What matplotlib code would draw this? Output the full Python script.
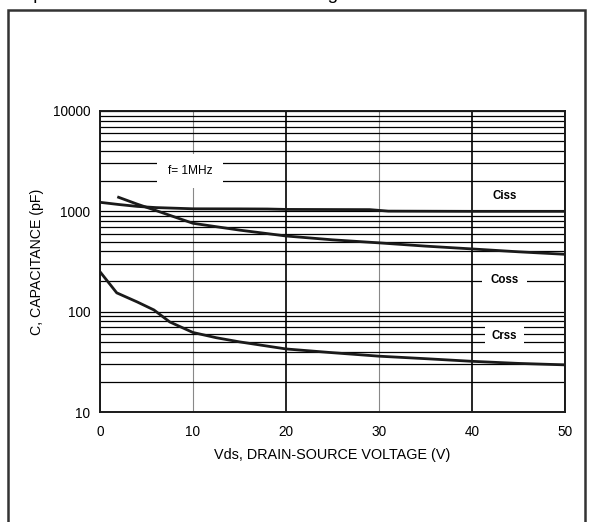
import matplotlib
matplotlib.use('Agg')
import matplotlib.pyplot as plt
from matplotlib.patches import Rectangle
from matplotlib.ticker import LogLocator, NullFormatter, FixedLocator, FixedFormatter

plt.rcParams['font.family'] = ['Liberation Sans', 'DejaVu Sans']

# ---- data ----
vds_ciss = [0, 2, 4, 6, 10, 15, 18, 20, 25, 29, 31, 40, 50]
ciss = [1230, 1170, 1120, 1090, 1060, 1058, 1055, 1045, 1042, 1040, 1005, 1000, 1000]

vds_coss = [2, 4, 6, 8, 10, 15, 20, 25, 30, 35, 40, 45, 50]
coss = [1380, 1180, 1020, 880, 760, 650, 568, 520, 485, 450, 422, 395, 373]

vds_crss = [0, 1.8, 4, 5.8, 7.5, 10, 12.5, 15, 20, 25, 30, 35, 40, 45, 50]
crss = [250, 154, 125, 104, 79, 62, 55, 50, 42.5, 39, 36, 34, 32, 30.5, 29.5]

x_ticks = [0, 10, 20, 30, 40, 50]
y_ticks = [10, 100, 1000, 10000]
y_tick_labels = ['10', '100', '1000', '10000']

W, H = 589, 522
fig = plt.figure(figsize=(W / 100, H / 100), dpi=100)
ax = fig.add_axes([100 / W, (H - 412) / H, 465 / W, 301 / H])

ax.set_yscale('log')
ax.set_xlim(0, 50)
ax.set_ylim(10, 10000)

ax.xaxis.set_major_locator(FixedLocator(x_ticks))
ax.yaxis.set_major_locator(FixedLocator(y_ticks))
ax.yaxis.set_major_formatter(FixedFormatter(y_tick_labels))
ax.yaxis.set_minor_locator(LogLocator(base=10, subs=range(2, 10)))
ax.yaxis.set_minor_formatter(NullFormatter())

ax.tick_params(which='both', length=0)
ax.tick_params(axis='y', pad=7, labelsize=9.8)
ax.tick_params(axis='x', pad=9, labelsize=9.8)

ax.set_axisbelow(True)
ax.grid(which='both', axis='y', color='black', lw=0.9)
ax.grid(which='major', axis='x', color='black', lw=1.2)
for val, gl in zip(x_ticks, ax.xaxis.get_gridlines()):
    if val in (10, 30):
        gl.set_color('#888888')
        gl.set_linewidth(0.8)

for s in ax.spines.values():
    s.set_linewidth(1.4)
    s.set_color('#1a1a1a')

lw = 2.0
ax.plot(vds_ciss, ciss, color='#1a1a1a', lw=lw, zorder=2)
ax.plot(vds_coss, coss, color='#1a1a1a', lw=lw, zorder=2)
ax.plot(vds_crss, crss, color='#1a1a1a', lw=lw, zorder=2)

ax.text(9.7, 2520, 'f= 1MHz', fontsize=8.6, ha='center', va='center',
        bbox=dict(boxstyle='square,pad=0.9', fc='white', ec='none'), zorder=3)
ax.text(43.5, 1420, 'Ciss', fontsize=8.3, fontweight='bold', ha='center', va='center', zorder=3)
ax.text(43.5, 205, 'Coss', fontsize=8.3, fontweight='bold', ha='center', va='center',
        bbox=dict(boxstyle='square,pad=0.75', fc='white', ec='none'), zorder=3)
ax.text(43.5, 57, 'Crss', fontsize=8.3, fontweight='bold', ha='center', va='center',
        bbox=dict(boxstyle='square,pad=0.6', fc='white', ec='none'), zorder=3)

ax.set_xlabel('Vds, DRAIN-SOURCE VOLTAGE (V)', fontsize=10.4, labelpad=6.5)
ax.set_ylabel('C, CAPACITANCE (pF)', fontsize=10.2, labelpad=6)

# partially visible caption at the very top (cut off in the reference too)
fig.text(9 / W, 1 + 1 / H, 'Capacitance Vs Drain-to-Source Voltage', fontsize=13.7,
         ha='left', va='baseline')

# outer frame
fig.add_artist(Rectangle((8 / W, -0.1), (585 - 8) / W, 1.1 - 10 / H,
                         transform=fig.transFigure, fill=False, lw=1.8, ec='#333333'))

fig.savefig('out.png', dpi=100)
